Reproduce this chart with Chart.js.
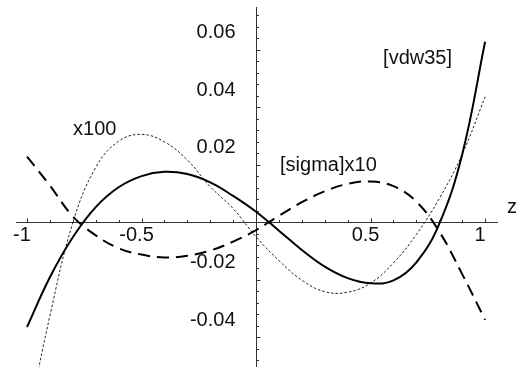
<!DOCTYPE html>
<html>
<head>
<meta charset="utf-8">
<script src="https://cdn.jsdelivr.net/npm/chart.js@4.4.1/dist/chart.umd.min.js"></script>
<style>
  html, body { margin: 0; padding: 0; background: #fff; }
  #wrap { width: 518px; height: 367px; }
</style>
</head>
<body>
<div id="wrap"><canvas id="chart"></canvas></div>
<script>
const zValues = [-1, -0.9, -0.8, -0.7, -0.6, -0.5, -0.4, -0.3, -0.2, -0.1, 0,
                 0.1, 0.2, 0.3, 0.4, 0.5, 0.6, 0.7, 0.8, 0.9, 1];
const vdw35 = [-0.0365, -0.0192, -0.0053, 0.0052, 0.0121, 0.0160, 0.0175, 0.0167, 0.0138, 0.0091, 0.0036,
               -0.0030, -0.0097, -0.0155, -0.0195, -0.0213, -0.0203, -0.0140, -0.0006, 0.0235, 0.0627];
const sigmaX10 = [0.0228, 0.0127, 0.0020, -0.0046, -0.0091, -0.0113, -0.0123, -0.0117, -0.0099, -0.0068, -0.0028,
                  0.0022, 0.0069, 0.0107, 0.0133, 0.0141, 0.0125, 0.0071, -0.0033, -0.0181, -0.0340];
const x100 = [-0.0710, -0.0326, -0.0003, 0.0190, 0.0281, 0.0305, 0.0279, 0.0216, 0.0123, 0.0047, -0.0051,
              -0.0134, -0.0202, -0.0242, -0.0244, -0.0212, -0.0142, -0.0043, 0.0082, 0.0235, 0.0436];

const xTickValues = [-1, -0.5, 0.5, 1];
const xTickLabels = ["-1", "-0.5", "0.5", "1"];
const yTickValues = [0.06, 0.04, 0.02, -0.02, -0.04];
const yTickLabels = ["0.06", "0.04", "0.02", "-0.02", "-0.04"];
const curveLabels = ["[vdw35]", "[sigma]x10", "x100"];
const axisTitle = "z";

const FONT = "'Liberation Sans', Arial, sans-serif";

function points(ys) {
  return zValues.map((z, i) => ({ x: z, y: ys[i] }));
}

// Mathematica-style axes: small ticks pointing up / right, labels placed like the original
const axesDecor = {
  id: "axesDecor",
  beforeDatasetsDraw(chart) {
    const { ctx, scales: { x, y } } = chart;
    const x0 = Math.round(x.getPixelForValue(0)) + 0.5;
    const y0 = Math.round(y.getPixelForValue(0)) + 0.5;
    ctx.save();
    ctx.strokeStyle = "#333";
    ctx.lineWidth = 1;
    ctx.beginPath();
    for (let k = -10; k <= 10; k++) {
      if (k === 0) continue;
      const px = Math.round(x.getPixelForValue(k / 10)) + 0.5;
      const len = k % 5 === 0 ? 4 : 2.5;
      ctx.moveTo(px, y0);
      ctx.lineTo(px, y0 - len);
    }
    for (let k = -12; k <= 18; k++) {
      if (k === 0) continue;
      const py = Math.round(y.getPixelForValue(k * 0.004)) + 0.5;
      const len = k % 5 === 0 ? 4 : 2.5;
      ctx.moveTo(x0, py);
      ctx.lineTo(x0 + len, py);
    }
    ctx.stroke();

    ctx.fillStyle = "#111";
    ctx.font = "20px " + FONT;
    ctx.textBaseline = "middle";
    ctx.textAlign = "center";
    xTickValues.forEach((v, i) => {
      ctx.fillText(xTickLabels[i], x.getPixelForValue(v) - 5, y0 + 12.5);
    });
    ctx.textAlign = "right";
    yTickValues.forEach((v, i) => {
      ctx.fillText(yTickLabels[i], x0 - 21, y.getPixelForValue(v) - 17);
    });
    ctx.restore();
  },
  afterDraw(chart) {
    const { ctx, scales: { x, y } } = chart;
    const notes = [
      [curveLabels[0], 0.5546, 0.0550],
      [curveLabels[1], 0.1048, 0.0176],
      [curveLabels[2], -0.7991, 0.0303],
      [axisTitle, 1.096, 0.0031]
    ];
    ctx.save();
    ctx.fillStyle = "#111";
    ctx.font = "20px " + FONT;
    ctx.textAlign = "left";
    ctx.textBaseline = "alphabetic";
    notes.forEach(([t, vx, vy]) => {
      ctx.fillText(t, x.getPixelForValue(vx), y.getPixelForValue(vy));
    });
    ctx.restore();
  }
};

new Chart(document.getElementById("chart"), {
  type: "line",
  data: {
    datasets: [
      {
        label: curveLabels[0],
        data: points(vdw35),
        borderColor: "#000",
        borderWidth: 2,
        pointRadius: 0,
        tension: 0.4
      },
      {
        label: curveLabels[1],
        data: points(sigmaX10),
        borderColor: "#000",
        borderWidth: 2,
        borderDash: [12, 7],
        pointRadius: 0,
        tension: 0.4
      },
      {
        label: curveLabels[2],
        data: points(x100),
        borderColor: "#222",
        borderWidth: 1,
        borderDash: [2.5, 2],
        pointRadius: 0,
        tension: 0.4
      }
    ]
  },
  options: {
    responsive: true,
    maintainAspectRatio: false,
    animation: false,
    devicePixelRatio: 1,
    layout: { padding: { left: 16, right: 21, top: 7, bottom: 0 } },
    plugins: {
      legend: { display: false },
      tooltip: { enabled: false }
    },
    scales: {
      x: {
        type: "linear",
        min: -1.048,
        max: 1.052,
        position: { y: 0 },
        grid: { display: false, drawTicks: false },
        border: { display: true, color: "#333", width: 1 },
        ticks: { display: false }
      },
      y: {
        type: "linear",
        min: -0.0504,
        max: 0.0748,
        position: { x: 0 },
        grid: { display: false, drawTicks: false },
        border: { display: true, color: "#333", width: 1 },
        ticks: { display: false }
      }
    }
  },
  plugins: [axesDecor]
});
</script>
</body>
</html>
